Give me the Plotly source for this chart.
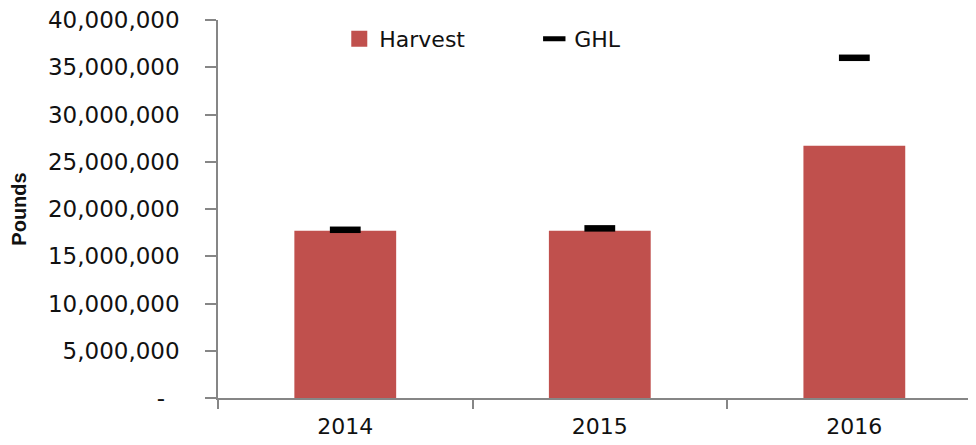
import plotly.graph_objects as go

years = ["2014", "2015", "2016"]
harvest = [17700000, 17700000, 26700000]
ghl = [17800000, 17950000, 36000000]
y_tick_vals = [0, 5000000, 10000000, 15000000, 20000000, 25000000, 30000000, 35000000, 40000000]
y_tick_text = ["-\u00a0\u00a0", "5,000,000", "10,000,000", "15,000,000", "20,000,000",
               "25,000,000", "30,000,000", "35,000,000", "40,000,000"]

BAR_COLOR = "#C0504D"
AXIS_COLOR = "#868686"

fig = go.Figure()
fig.add_trace(go.Bar(
    x=years, y=harvest, name="Harvest", width=0.4,
    marker=dict(color=BAR_COLOR, line=dict(width=0)),
    showlegend=False,
))
# legend-only entry for Harvest (larger square swatch)
fig.add_trace(go.Scatter(
    x=[None], y=[None], name="Harvest", mode="markers",
    marker=dict(symbol="square", size=18, color=BAR_COLOR),
))
fig.add_trace(go.Scatter(
    x=years, y=ghl, name="GHL", mode="markers",
    marker=dict(symbol="line-ew", size=22, color="black",
                line=dict(width=6.5, color="black")),
))

fig.update_layout(
    width=968, height=437,
    margin=dict(l=210, r=0, t=12, b=47),
    paper_bgcolor="white", plot_bgcolor="white",
    font=dict(family="DejaVu Sans, Verdana, sans-serif", color="#111111"),
    legend=dict(
        orientation="h", x=0.16, xanchor="left", y=0.95, yanchor="middle",
        font=dict(size=22, family="DejaVu Sans, Verdana, sans-serif"),
        entrywidth=150, bgcolor="rgba(0,0,0,0)", traceorder="normal",
    ),
    xaxis=dict(
        type="category", range=[-0.5, 2.478],
        showline=True, linecolor=AXIS_COLOR, linewidth=1.5,
        ticks="outside", ticklen=9, tickcolor=AXIS_COLOR, tickwidth=1.5,
        tickson="boundaries", showgrid=False, zeroline=False,
        tickfont=dict(size=22, family="DejaVu Sans, Verdana, sans-serif"),
        ticklabelstandoff=8,
    ),
    yaxis=dict(
        range=[0, 40000000], tickvals=y_tick_vals, ticktext=y_tick_text,
        showline=True, linecolor=AXIS_COLOR, linewidth=1.5,
        ticks="outside", ticklen=11, tickcolor=AXIS_COLOR, tickwidth=1.5,
        showgrid=False, zeroline=False,
        tickfont=dict(size=23, family="DejaVu Sans, Verdana, sans-serif"),
        ticklabelstandoff=21, ticklabeloverflow="allow",
        title=dict(text="<b>Pounds</b>", standoff=18,
                   font=dict(size=20, family="Liberation Sans Narrow, Arial Narrow, Liberation Sans, sans-serif")),
    ),
)

fig.write_html("out.html")
